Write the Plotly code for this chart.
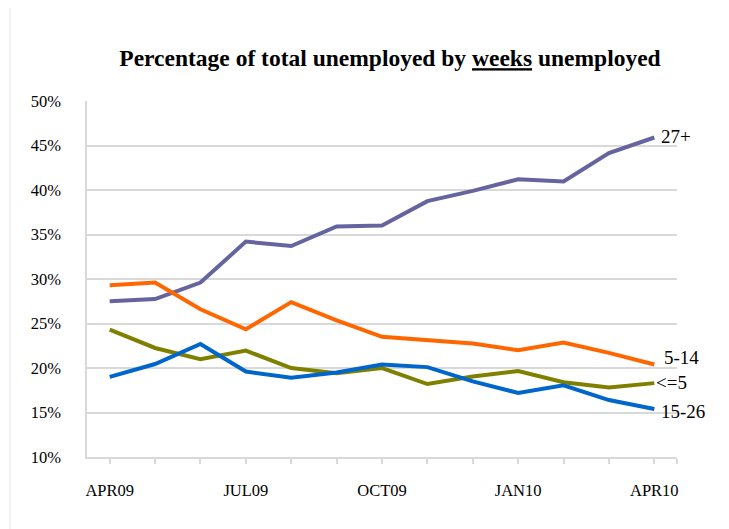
import plotly.graph_objects as go

months = ["APR09", "MAY09", "JUN09", "JUL09", "AUG09", "SEP09", "OCT09",
          "NOV09", "DEC09", "JAN10", "FEB10", "MAR10", "APR10"]
tick_labels = ["APR09", "JUL09", "OCT09", "JAN10", "APR10"]

s_27plus = [27.5, 27.75, 29.6, 34.2, 33.7, 35.9, 36.0, 38.75, 39.9, 41.2, 40.95, 44.15, 45.9]
s_5_14 = [29.3, 29.6, 26.6, 24.35, 27.4, 25.35, 23.5, 23.1, 22.75, 22.0, 22.85, 21.7, 20.4]
s_le5 = [24.3, 22.25, 21.0, 21.95, 20.0, 19.4, 20.0, 18.2, 19.05, 19.65, 18.4, 17.8, 18.3]
s_15_26 = [19.0, 20.45, 22.7, 19.6, 18.9, 19.5, 20.4, 20.1, 18.5, 17.2, 18.05, 16.4, 15.4]

series = [
    ("27+", s_27plus, "#65649E"),
    ("5-14", s_5_14, "#FF6600"),
    ("<=5", s_le5, "#808000"),
    ("15-26", s_15_26, "#0066CC"),
]
label_yshift = {"27+": 1, "5-14": 7, "<=5": 1, "15-26": -3}
label_xshift = {"27+": 5, "5-14": 8, "<=5": 0, "15-26": 5}

SERIF = "Times New Roman, Liberation Serif, Tinos, DejaVu Serif, serif"

fig = go.Figure()
for name, vals, color in series:
    fig.add_trace(go.Scatter(x=list(range(len(months))), y=vals, mode="lines", name=name,
                             line=dict(color=color, width=4), showlegend=False))
    fig.add_annotation(x=len(months) - 1, y=vals[-1], text=name, showarrow=False,
                       xanchor="left", yanchor="middle",
                       xshift=label_xshift[name], yshift=label_yshift[name],
                       font=dict(family=SERIF, size=19, color="#000000"))

fig.update_layout(
    width=729, height=529,
    margin=dict(l=79, r=60, t=93, b=80),
    paper_bgcolor="white", plot_bgcolor="white",
    title=dict(text="<b>Percentage of total unemployed by <u>weeks</u> unemployed</b>",
               x=0.524, xanchor="center", y=0.9055, yanchor="middle",
               font=dict(family=SERIF, size=23.5, color="#000000")),
    font=dict(family=SERIF, size=16.5, color="#000000"),
)
fig.update_xaxes(
    range=[-0.5, len(months) - 0.5],
    tickmode="array",
    tickvals=[months.index(t) for t in tick_labels],
    ticktext=tick_labels,
    showgrid=False, zeroline=False,
    showline=True, linecolor="#D9D9D9", linewidth=1.5,
    ticks="", ticklabelstandoff=17,
    tickfont=dict(family=SERIF, size=16.5, color="#000000"),
)
fig.update_xaxes(minor=dict(tickmode="array", tickvals=list(range(len(months))) + [len(months) - 0.5],
                            ticks="outside", ticklen=5, tickcolor="#D9D9D9", tickwidth=1.5, showgrid=False))
fig.update_yaxes(
    range=[10, 50], dtick=5, tick0=10, ticksuffix="%",
    showgrid=True, gridcolor="#D9D9D9", gridwidth=1.5,
    zeroline=False, showline=True, linecolor="#D9D9D9", linewidth=1.5,
    ticks="", ticklabelstandoff=21,
    tickfont=dict(family=SERIF, size=16.5, color="#000000"),
)
fig.add_shape(type="rect", xref="paper", yref="paper",
              x0=-0.1305, x1=1.09, y0=-0.22, y1=1.266,
              line=dict(color="#E6E6E6", width=1), layer="below")

fig.write_html("out.html")
